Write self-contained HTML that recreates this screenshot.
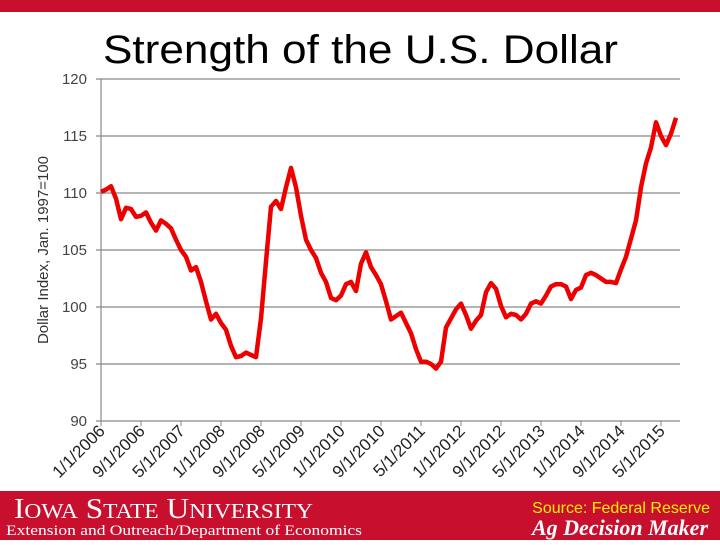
<!DOCTYPE html>
<html><head><meta charset="utf-8"><style>
body{margin:0;width:720px;height:540px;overflow:hidden;background:#fff;font-family:"Liberation Sans",sans-serif}
</style></head><body>
<svg width="720" height="540" xmlns="http://www.w3.org/2000/svg">
<rect x="0" y="0" width="720" height="12" fill="#c8102e"/>
<text x="103" y="63" font-size="40" textLength="515" lengthAdjust="spacingAndGlyphs" font-family="Liberation Sans,sans-serif" fill="#000">Strength of the U.S. Dollar</text>
<g id="grid"></g><g id="ylab"></g><g id="xlab"></g>
<text transform="translate(48,250) rotate(-90)" text-anchor="middle" font-size="15" fill="#333">Dollar Index, Jan. 1997=100</text>
<path id="line" fill="none" stroke="#ee0000" stroke-width="4.5" stroke-linejoin="round"/>
<rect x="0" y="491" width="720" height="49" fill="#c8102e"/>
<text x="14" y="518" font-size="28" textLength="299" lengthAdjust="spacingAndGlyphs" fill="#fff" font-family="Liberation Serif,serif">I<tspan font-size="21">OWA</tspan> S<tspan font-size="21">TATE</tspan> U<tspan font-size="21">NIVERSITY</tspan></text>
<text x="6" y="535" font-size="15" textLength="356" lengthAdjust="spacingAndGlyphs" fill="#fff" font-family="Liberation Serif,serif">Extension and Outreach/Department of Economics</text>
<text x="710" y="513" text-anchor="end" font-size="16" fill="#ffee00">Source: Federal Reserve</text>
<text x="708" y="535" text-anchor="end" font-size="22" fill="#fff" font-style="italic" font-weight="bold" font-family="Liberation Serif,serif">Ag Decision Maker</text>
</svg>
<script>
const yTicks=[90,95,100,105,110,115,120];
const xTickLabels=["1/1/2006","9/1/2006","5/1/2007","1/1/2008","9/1/2008","5/1/2009","1/1/2010","9/1/2010","5/1/2011","1/1/2012","9/1/2012","5/1/2013","1/1/2014","9/1/2014","5/1/2015"];
const values=[110.1,110.3,110.6,109.5,107.7,108.7,108.6,107.9,108.0,108.3,107.4,106.7,107.6,107.3,106.9,105.9,105.0,104.4,103.2,103.5,102.2,100.5,98.9,99.4,98.6,98.0,96.6,95.6,95.7,96.0,95.8,95.6,99.0,104.0,108.8,109.3,108.6,110.5,112.2,110.5,108.0,105.9,105.0,104.3,103.0,102.2,100.8,100.6,101.0,102.0,102.2,101.4,103.8,104.8,103.5,102.8,102.0,100.5,98.9,99.2,99.5,98.6,97.7,96.3,95.2,95.2,95.0,94.6,95.2,98.2,99.0,99.8,100.3,99.3,98.1,98.8,99.3,101.3,102.1,101.6,100.1,99.1,99.4,99.3,98.9,99.4,100.3,100.5,100.3,101.0,101.8,102.0,102.0,101.8,100.7,101.5,101.7,102.8,103.0,102.8,102.5,102.2,102.2,102.1,103.3,104.4,106.0,107.6,110.5,112.6,114.0,116.2,115.0,114.2,115.2,116.6];
const NS="http://www.w3.org/2000/svg";
const X0=101,DX=5,PR=680;
const yS=v=>421-(v-90)*(342/30);
const xS=i=>X0+i*DX;
const grid=document.getElementById('grid'),yl=document.getElementById('ylab'),xl=document.getElementById('xlab');
yTicks.forEach(t=>{
 const l=document.createElementNS(NS,'line');
 l.setAttribute('x1',X0-5);l.setAttribute('x2',PR);l.setAttribute('y1',yS(t));l.setAttribute('y2',yS(t));
 l.setAttribute('stroke','#888');l.setAttribute('stroke-width','1.2');
 
 
 grid.appendChild(l);
 const tx=document.createElementNS(NS,'text');
 tx.setAttribute('x',87);tx.setAttribute('y',yS(t)+5);tx.setAttribute('text-anchor','end');
 tx.setAttribute('font-size','15');tx.setAttribute('fill','#444');tx.textContent=t;
 
 
 yl.appendChild(tx);
});
const ax=document.createElementNS(NS,'line');
ax.setAttribute('x1',X0);ax.setAttribute('x2',X0);ax.setAttribute('y1',79);ax.setAttribute('y2',421);
ax.setAttribute('stroke','#888');ax.setAttribute('stroke-width','1.2');


grid.appendChild(ax);
xTickLabels.forEach((s,k)=>{
 const x=xS(k*8);
 const tk=document.createElementNS(NS,'line');
 tk.setAttribute('x1',x);tk.setAttribute('x2',x);tk.setAttribute('y1',421);tk.setAttribute('y2',426);tk.setAttribute('stroke','#888');
 
 
 grid.appendChild(tk);
 const tx=document.createElementNS(NS,'text');
 tx.setAttribute('transform','translate('+(x+5)+',432) rotate(-45)');
 tx.setAttribute('text-anchor','end');tx.setAttribute('font-size','17');tx.setAttribute('fill','#222');
 tx.textContent=s;
 
 
 xl.appendChild(tx);
});
document.getElementById('line').setAttribute('d',values.map((v,i)=>(i?'L':'M')+xS(i)+','+yS(v).toFixed(1)).join(' '));
</script>
</body></html>
